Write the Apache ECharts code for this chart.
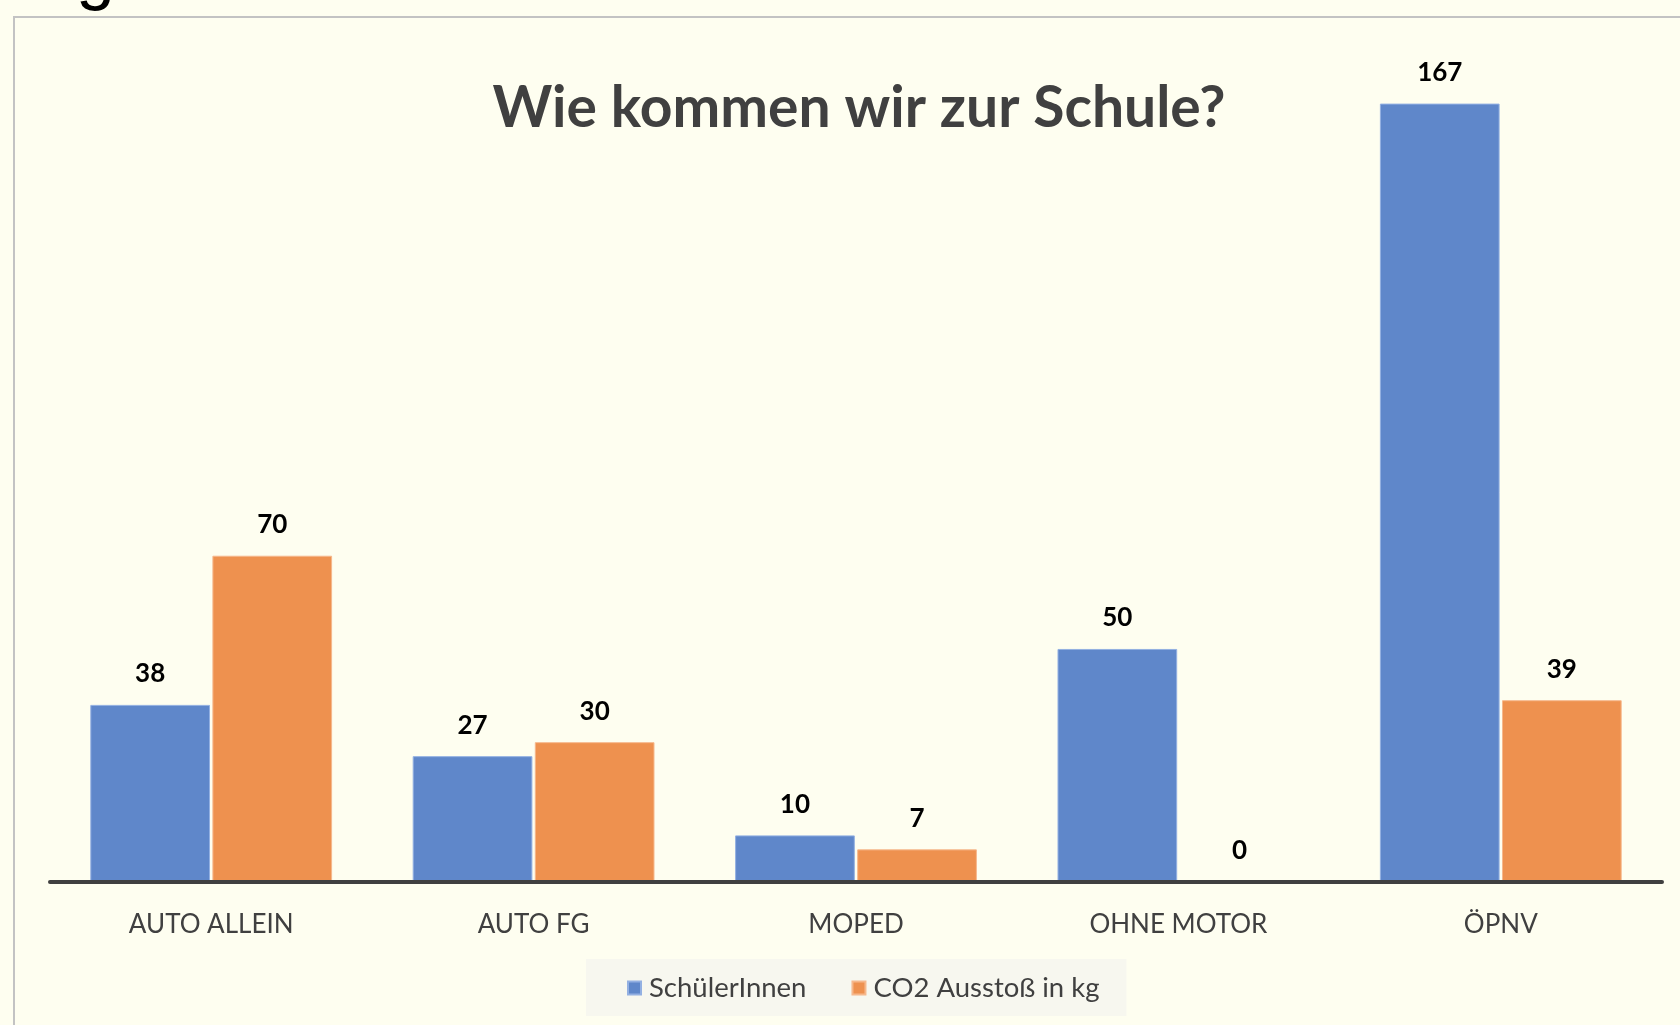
<!DOCTYPE html>
<html>
<head>
<meta charset="utf-8">
<script src="https://cdn.jsdelivr.net/npm/echarts@6/dist/echarts.min.js"></script>
<style>
  html, body { margin: 0; padding: 0; background: #fefef0; }
  #chart { width: 1680px; height: 1025px; }
</style>
</head>
<body>
<div id="chart"></div>
<script>
// Daten
const categories = ['AUTO ALLEIN', 'AUTO FG', 'MOPED', 'OHNE MOTOR', 'ÖPNV']
const schueler = [38, 27, 10, 50, 167]
const co2 = [70, 30, 7, 0, 39]

const chart = echarts.init(document.getElementById('chart'))

const labelStyle = {
  show: true,
  position: 'top',
  distance: 18,
  color: '#000',
  fontFamily: 'Lato',
  fontWeight: 'bold',
  fontSize: 26
}

chart.setOption({
  backgroundColor: '#fefef0',
  animation: false,
  title: {
    text: 'Wie kommen wir zur Schule?',
    left: 854,
    top: 104,
    textAlign: 'center',
    textVerticalAlign: 'middle',
    textStyle: { fontFamily: 'Lato', fontWeight: 'bold', fontSize: 57, color: '#404040' }
  },
  graphic: [
    // Rahmen
    {
      type: 'rect',
      shape: { x: 14, y: 17, width: 1800, height: 1200 },
      style: { fill: null, stroke: '#c3c3c3', lineWidth: 2 },
      silent: true
    },
    // abgeschnittener Buchstabe oben links
    {
      type: 'text',
      x: 76,
      y: 12,
      style: { text: 'g', font: 'normal 70px "Liberation Sans"', fill: '#000', verticalAlign: 'bottom' },
      silent: true
    }
  ],
  legend: {
    left: 586,
    top: 959,
    padding: [15, 27, 14, 41],
    backgroundColor: '#f7f7ef',
    itemWidth: 13,
    itemHeight: 13,
    itemGap: 45,
    icon: 'rect',
    textStyle: { fontFamily: 'Lato', fontSize: 27.5, color: '#404040', padding: [0, 0, 0, 3] },
    data: ['SchülerInnen', 'CO2 Ausstoß in kg']
  },
  grid: { left: 50, right: 18, top: 43, bottom: 143 },
  xAxis: {
    type: 'category',
    data: categories,
    z: 5,
    axisLine: { lineStyle: { color: '#404040', width: 4 } },
    axisTick: { show: false },
    axisLabel: { margin: 30, fontFamily: 'Lato', fontSize: 26, color: '#404040' }
  },
  yAxis: {
    type: 'value',
    min: 0,
    max: 180,
    show: false,
    splitLine: { show: false }
  },
  series: [
    {
      name: 'SchülerInnen',
      type: 'bar',
      data: schueler,
      barGap: '2%',
      barCategoryGap: '25%',
      itemStyle: { color: '#5f87ca', borderColor: '#93b0e2', borderWidth: 1 },
      label: labelStyle
    },
    {
      name: 'CO2 Ausstoß in kg',
      type: 'bar',
      data: co2,
      itemStyle: { color: '#ee914f', borderColor: '#f6b88c', borderWidth: 1 },
      label: labelStyle
    }
  ]
})
</script>
</body>
</html>
